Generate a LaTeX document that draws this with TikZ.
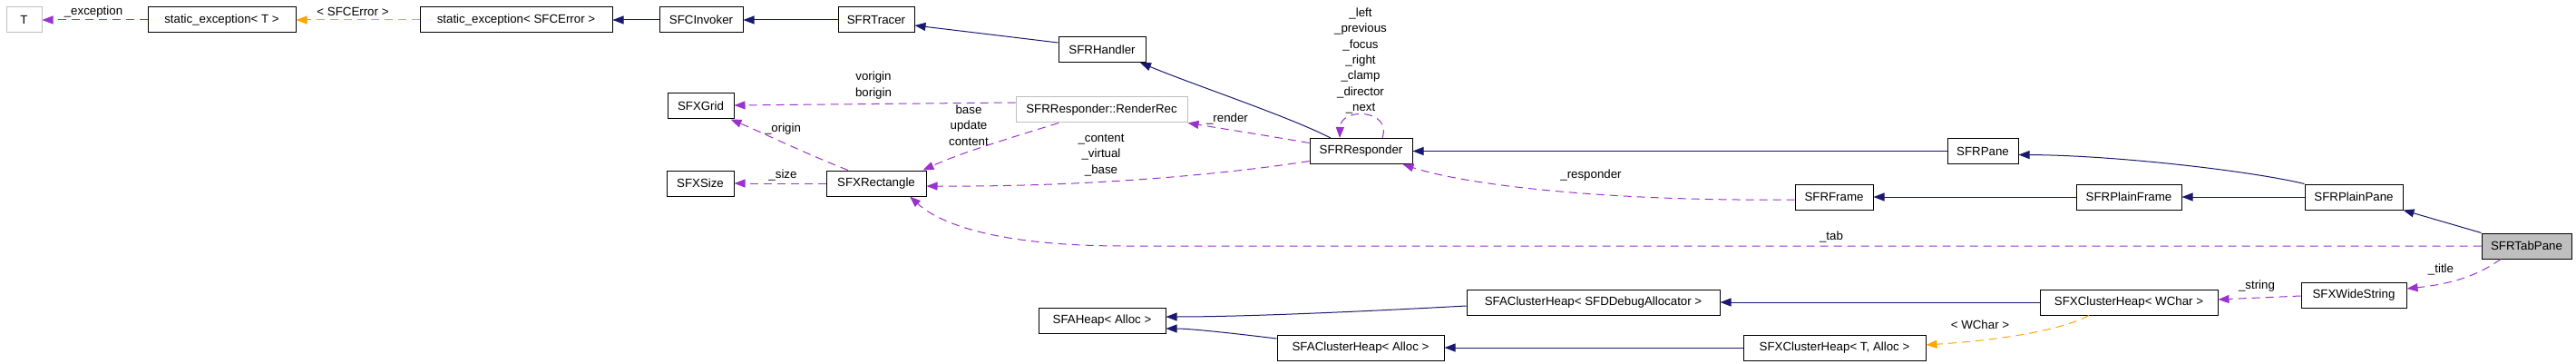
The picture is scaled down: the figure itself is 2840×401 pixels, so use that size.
\documentclass[tikz,border=0pt]{standalone}
\usepackage{fontspec}
\setmainfont{Liberation Sans}
\usetikzlibrary{arrows.meta,calc}
\definecolor{inh}{HTML}{191970}
\definecolor{use}{HTML}{9A32CD}
\definecolor{tpl}{HTML}{FFA500}
\definecolor{gbox}{HTML}{BFBFBF}
\newcommand{\fsz}{\fontsize{13.3}{17.3}\selectfont}
\begin{document}
\begin{tikzpicture}[x=1pt,y=-1pt,
  cls/.style={draw=black,line width=1pt,minimum height=28pt,inner sep=0pt,font=\fsz},
  gcls/.style={cls,draw=gbox},
  cur/.style={cls,fill=gbox},
  lbl/.style={inner sep=0pt,font=\fsz,align=center},
  tip/.style={-{Triangle[length=12pt,width=9pt]}},
  inhedge/.style={tip,draw=inh,line width=1pt},
  useedge/.style={tip,draw=use,line width=1pt,dash pattern=on 9pt off 6pt},
  tpledge/.style={tip,draw=tpl,line width=1pt,dash pattern=on 9pt off 6pt}]
\useasboundingbox (0,0) rectangle (2840,401);

% nodes
\node[gcls,minimum width=39pt]  (T)      at (26.5,22)   {T};
\node[cls,minimum width=163pt]  (seT)    at (244.5,22)  {static\_exception< T >};
\node[cls,minimum width=212pt]  (seS)    at (569,22)    {static\_exception< SFCError >};
\node[cls,minimum width=92pt]   (inv)    at (773,22)    {SFCInvoker};
\node[cls,minimum width=84pt]   (tracer) at (966,22)    {SFRTracer};
\node[cls,minimum width=96pt]   (handler) at (1215,54.5) {SFRHandler};
\node[cls,minimum width=73pt]   (grid)   at (772.5,117) {SFXGrid};
\node[gcls,minimum width=189pt] (rr)     at (1214.5,121) {SFRResponder::RenderRec};
\node[cls,minimum width=113pt]  (resp)   at (1500.5,166.5) {SFRResponder};
\node[cls,minimum width=74pt]   (size)   at (772,202)   {SFXSize};
\node[cls,minimum width=110pt]  (rect)   at (966,202)   {SFXRectangle};
\node[cls,minimum width=78pt]   (pane)   at (2186,166.5) {SFRPane};
\node[cls,minimum width=86pt]   (frame)  at (2022,217)  {SFRFrame};
\node[cls,minimum width=116pt]  (pframe) at (2347,217)  {SFRPlainFrame};
\node[cls,minimum width=108pt]  (ppane)  at (2595,217)  {SFRPlainPane};
\node[cur,minimum width=99pt]   (tab)    at (2785.5,271) {SFRTabPane};
\node[cls,minimum width=116pt]  (wide)   at (2595,325.5) {SFXWideString};
\node[cls,minimum width=196pt]  (xchw)   at (2347,333)  {SFXClusterHeap< WChar >};
\node[cls,minimum width=279pt]  (acdbg)  at (1756.5,333) {SFAClusterHeap< SFDDebugAllocator >};
\node[cls,minimum width=140pt]  (heap)   at (1215,353)  {SFAHeap< Alloc >};
\node[cls,minimum width=184pt]  (acall)  at (1500,383)  {SFAClusterHeap< Alloc >};
\node[cls,minimum width=201pt]  (xcta)   at (2022.5,383) {SFXClusterHeap< T, Alloc >};

% labels
\node[lbl] (lexc)  at (103,13)  {\_exception};
\node[lbl] (lsfce) at (389,13)  {< SFCError >};
\node[lbl] (lvor)  at (963,94)  {vorigin\\borigin};
\node[lbl] (lbuc)  at (1068,138) {base\\update\\content};
\node[lbl] (lorig) at (863,142) {\_origin};
\node[lbl] (lsize) at (863,193) {\_size};
\node[lbl] (lrend) at (1353,131) {\_render};
\node[lbl] (lcvb)  at (1214,171) {\_content\\\_virtual\\\_base};
\node[lbl] (lself) at (1500,67)  {\_left\\\_previous\\\_focus\\\_right\\\_clamp\\\_director\\\_next};
\node[lbl] (lresp) at (1754,193) {\_responder};
\node[lbl] (ltab)  at (2019,261) {\_tab};
\node[lbl] (ltitle) at (2691,297) {\_title};
\node[lbl] (lstr)  at (2488,315) {\_string};
\node[lbl] (lwch)  at (2183,358) {< WChar >};

% inheritance edges
\draw[inhedge] (inv.west) -- (seS.east);
\draw[inhedge] (tracer.west) -- (inv.east);
\draw[inhedge] ($(handler.west)+(0,-7.5)$) -- ($(tracer.east)+(0,6)$);
\draw[inhedge] ($(resp.north)+(-33.5,0)$) .. controls (1420,128) and (1320,95) .. ($(handler.south)+(42,0)$);
\draw[inhedge] (pane.west) -- (resp.east);
\draw[inhedge] (ppane.north west) .. controls (2480,188) and (2330,171) .. ($(pane.east)+(0,4)$);
\draw[inhedge] (pframe.west) -- (frame.east);
\draw[inhedge] (ppane.west) -- (pframe.east);
\draw[inhedge] (tab.north west) -- (ppane.south east);
\draw[inhedge] (xchw.west) -- (acdbg.east);
\draw[inhedge] (xcta.west) -- (acall.east);
\draw[inhedge] ($(acdbg.west)+(0,4)$) .. controls (1450,346) and (1350,349) .. ($(heap.east)+(0,-4)$);
\draw[inhedge] ($(acall.west)+(0,-10)$) .. controls (1350,366) and (1310,362) .. ($(heap.east)+(0,9)$);

% template edges
\draw[tpledge] (seS.west) -- (seT.east);
\draw[tpledge] ($(xchw.south)+(-44,0)$) .. controls (2270,365) and (2200,375) .. ($(xcta.east)+(0,-3)$);

% usage edges
\draw[useedge] (seT.west) -- (T.east);
\draw[useedge] ($(rr.west)+(0,-8)$) -- ($(grid.east)+(0,-1)$);
\draw[useedge] ($(rect.north)+(-31,0)$) .. controls (890,170) and (840,146) .. ($(grid.south east)+(-4,0)$);
\draw[useedge] (rect.west) -- (size.east);
\draw[useedge] ($(rr.south)+(-47.5,0)$) .. controls (1120,150) and (1060,168) .. ($(rect.north east)+(-4,0)$);
\draw[useedge] ($(resp.west)+(0,-9)$) .. controls (1400,150) and (1350,142) .. (rr.south east);
\draw[useedge] ($(resp.west)+(0,11)$) .. controls (1350,192) and (1200,206) .. ($(rect.east)+(0,3)$);
\draw[useedge] ($(frame.west)+(0,3)$) .. controls (1780,222) and (1620,205) .. ($(resp.south)+(46,0)$);
\draw[useedge] (tab.west) -- (1240,271) .. controls (1110,271) and (1040,250) .. ($(rect.south)+(37,0)$);
\draw[useedge] ($(tab.south)+(-28.5,0)$) .. controls (2730,305) and (2700,313) .. ($(wide.east)+(0,-7.5)$);
\draw[useedge] ($(wide.west)+(0,0.5)$) -- ($(xchw.east)+(0,-3)$);
\draw[useedge] ($(resp.north)+(23.5,0)$) .. controls (1535,120) and (1478,118) .. ($(resp.north)+(-23.5,0)$);
\end{tikzpicture}
\end{document}
